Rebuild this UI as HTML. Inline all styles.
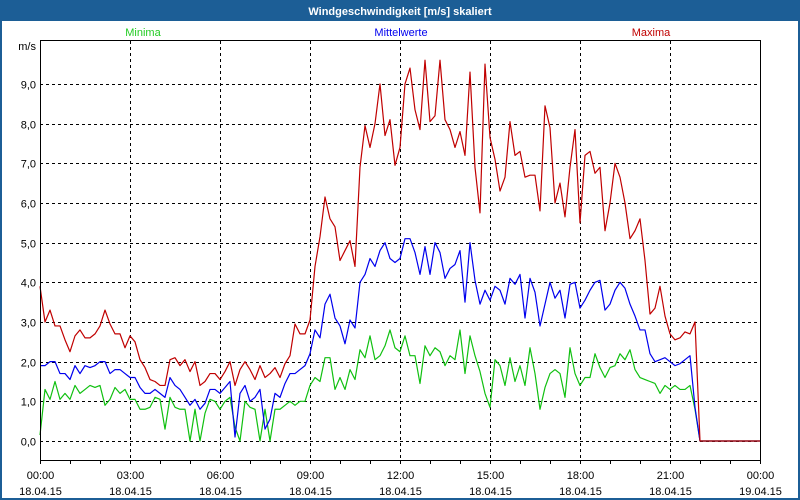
<!DOCTYPE html>
<html><head><meta charset="utf-8"><style>
html,body{margin:0;padding:0;background:#fff;}
#win{position:relative;width:800px;height:500px;overflow:hidden;font-family:"Liberation Sans",sans-serif;}
</style></head><body>
<div id="win">
<svg id="svg" width="800" height="500" xmlns="http://www.w3.org/2000/svg" style="position:absolute;left:0;top:0">
  <rect x="0" y="0" width="800" height="500" fill="#1c5e96"/>
  <rect x="2" y="21" width="796" height="477" fill="#fff"/>
  <text x="400" y="15" text-anchor="middle" font-size="11" font-weight="bold" fill="#fff" font-family="Liberation Sans, sans-serif">Windgeschwindigkeit [m/s] skaliert</text>
  <text x="143" y="36" text-anchor="middle" font-size="11" fill="#22cc22" font-family="Liberation Sans, sans-serif">Minima</text>
  <text x="401" y="36" text-anchor="middle" font-size="11" fill="#0000ee" font-family="Liberation Sans, sans-serif">Mittelwerte</text>
  <text x="651" y="36" text-anchor="middle" font-size="11" fill="#c00000" font-family="Liberation Sans, sans-serif">Maxima</text>
  <text x="36" y="50" text-anchor="end" font-size="11" fill="#000" font-family="Liberation Sans, sans-serif">m/s</text>
  <g id="grid"></g>
  <g id="series"></g>
  <rect x="40.5" y="40.5" width="720" height="420" fill="none" stroke="#000" stroke-width="1"/>
  <g id="axes"></g>
</svg>
</div>
<script>
const yTicks = [0,1,2,3,4,5,6,7,8,9];
const xTickHours = [0,3,6,9,12,15,18,21,24];
const xTimeLabels = ["00:00","03:00","06:00","09:00","12:00","15:00","18:00","21:00","00:00"];
const xDateLabels = ["18.04.15","18.04.15","18.04.15","18.04.15","18.04.15","18.04.15","18.04.15","18.04.15","19.04.15"];
const stepMinutes = 10;
const maxima = [3.9,3.0,3.3,2.9,2.9,2.55,2.25,2.65,2.8,2.6,2.6,2.7,2.9,3.3,2.95,2.7,2.7,2.35,2.65,2.5,2.05,1.85,1.55,1.5,1.4,1.4,2.05,2.1,1.9,2.05,1.75,2.0,1.4,1.5,1.7,1.7,1.55,1.75,2.0,1.4,1.8,2.0,1.8,1.55,1.9,1.6,1.7,1.85,1.6,1.95,2.15,2.95,2.7,2.7,3.05,
4.4,5.15,6.15,5.6,5.4,4.55,4.8,5.05,4.4,6.9,7.95,7.4,8.0,9.0,7.7,8.1,6.95,7.4,9.0,9.4,8.35,7.85,9.6,8.05,8.2,9.6,8.1,7.85,7.4,7.8,7.2,9.3,6.9,5.75,9.5,7.65,
7.1,6.3,6.65,8.05,7.2,7.3,6.65,6.7,6.7,5.8,8.45,7.9,6.0,6.5,5.65,6.9,7.85,5.5,7.2,7.3,6.75,6.9,5.3,6.0,7.0,6.65,6.0,5.1,5.3,5.6,4.55,3.2,3.35,3.9,3.15,2.7,2.55,2.6,2.75,2.7,3.0,0,
0,0,0,0,0,0,0,0,0,0,0,0];
const mittelwerte = [1.9,1.9,2.0,2.0,1.7,1.7,1.55,1.9,1.7,1.9,1.85,1.9,2.0,2.0,1.7,1.8,1.8,1.7,1.6,1.6,1.35,1.2,1.2,1.3,1.2,1.1,1.6,1.4,1.3,1.1,0.9,1.05,0.8,0.95,1.3,1.3,1.2,1.35,1.5,0.1,1.2,1.4,1.0,1.1,1.3,0.3,0.55,1.2,1.1,1.45,1.7,1.7,1.8,1.9,2.2,
2.8,2.6,3.45,3.7,3.1,2.9,2.45,3.05,2.85,4.0,4.2,4.6,4.4,4.8,5.0,4.6,4.5,4.6,5.1,5.1,4.75,4.2,4.9,4.2,5.0,4.75,4.1,4.35,4.45,4.8,3.5,5.0,4.05,3.45,3.8,3.55,
3.9,3.8,3.45,4.1,3.95,4.2,3.1,4.1,3.75,2.9,3.45,4.0,3.6,3.8,3.1,3.95,4.0,3.35,3.55,3.8,4.0,4.05,3.3,3.45,3.8,4.0,3.85,3.45,3.15,2.8,2.8,2.2,2.0,2.05,2.1,2.0,1.9,1.95,2.05,2.15,0.85,0,
0,0,0,0,0,0,0,0,0,0,0,0];
const minima = [0.15,1.3,1.05,1.5,1.05,1.2,1.05,1.4,1.2,1.3,1.4,1.35,1.4,0.9,1.05,1.35,1.2,1.3,1.05,1.05,0.8,0.8,0.85,1.1,1.05,0.3,1.1,0.85,0.8,0.8,0.0,0.8,0.0,0.7,1.05,1.0,0.8,1.0,1.1,0.35,0.0,1.0,0.85,0.8,0.0,0.8,0.0,0.8,0.8,0.9,1.0,0.9,1.0,1.0,1.4,
1.6,1.5,2.1,2.1,1.3,1.6,1.3,1.8,1.55,2.3,2.1,2.65,2.05,2.15,2.4,2.8,2.35,2.25,2.65,2.15,2.15,1.45,2.4,2.15,2.35,2.25,1.9,2.15,2.05,2.8,1.7,2.65,2.15,1.75,1.2,0.85,
2.05,1.9,1.4,2.1,1.5,1.9,1.4,2.35,1.7,0.8,1.35,1.7,1.8,1.7,1.1,2.35,1.7,1.4,1.6,1.6,2.2,1.85,1.6,1.85,1.9,2.2,2.05,2.3,1.8,1.6,1.55,1.5,1.45,1.2,1.4,1.3,1.4,1.3,1.3,1.4,0.8,0,
0,0,0,0,0,0,0,0,0,0,0,0];

const NS = "http://www.w3.org/2000/svg";
const X0 = 40, X1 = 760, Y0 = 441, YPER = 39.67;
function xHour(h){ return X0 + (X1 - X0) * h / 24; }
function yVal(v){ return Y0 - v * YPER; }
function mk(tag, attrs, parent){
  const e = document.createElementNS(NS, tag);
  for (const k in attrs) e.setAttribute(k, attrs[k]);
  parent.appendChild(e);
  return e;
}
const grid = document.getElementById('grid');
const axes = document.getElementById('axes');
const ser = document.getElementById('series');
yTicks.forEach(v => {
  const y = Math.round(yVal(v)) + 0.5;
  const l = mk('line', {x1: X0, x2: X1, y1: y, y2: y, stroke: '#000', 'stroke-dasharray': '3,3'}, grid);
  
  
  const t = mk('text', {x: 36, y: y + 4, 'text-anchor': 'end', 'font-size': 11, 'font-family': 'Liberation Sans, sans-serif'}, axes);
  t.textContent = v.toFixed(1).replace('.', ',');
  
  
});
for (let h = 0; h <= 24; h++) {
  const x = Math.round(xHour(h)) + 0.5;
  const tk = mk('line', {x1: x, x2: x, y1: 460, y2: 464, stroke: '#000'}, axes);
  
  
}
xTickHours.forEach((h, i) => {
  const x = Math.round(xHour(h)) + 0.5;
  if (h > 0 && h < 24) {
    const l = mk('line', {x1: x, x2: x, y1: 41, y2: 460, stroke: '#000', 'stroke-dasharray': '3,3'}, grid);
    
    
  }
  const t1 = mk('text', {x: x, y: 479, 'text-anchor': 'middle', 'font-size': 11, 'font-family': 'Liberation Sans, sans-serif'}, axes);
  t1.textContent = xTimeLabels[i];
  
  
  const t2 = mk('text', {x: x, y: 495, 'text-anchor': 'middle', 'font-size': 11, 'font-family': 'Liberation Sans, sans-serif'}, axes);
  t2.textContent = xDateLabels[i];
  
  
});
function drawSeries(arr, color, name){
  const pts = arr.map((v, i) => xHour(i * stepMinutes / 60).toFixed(2) + ',' + yVal(v).toFixed(2)).join(' ');
  const p = mk('polyline', {points: pts, fill: 'none', stroke: color, 'stroke-width': 1.2, 'stroke-linejoin': 'round'}, ser);
  
  
}
drawSeries(minima, '#10c010', 'minima-line');
drawSeries(mittelwerte, '#0000ee', 'mittelwerte-line');
drawSeries(maxima, '#c00000', 'maxima-line');
</script>
</body></html>
